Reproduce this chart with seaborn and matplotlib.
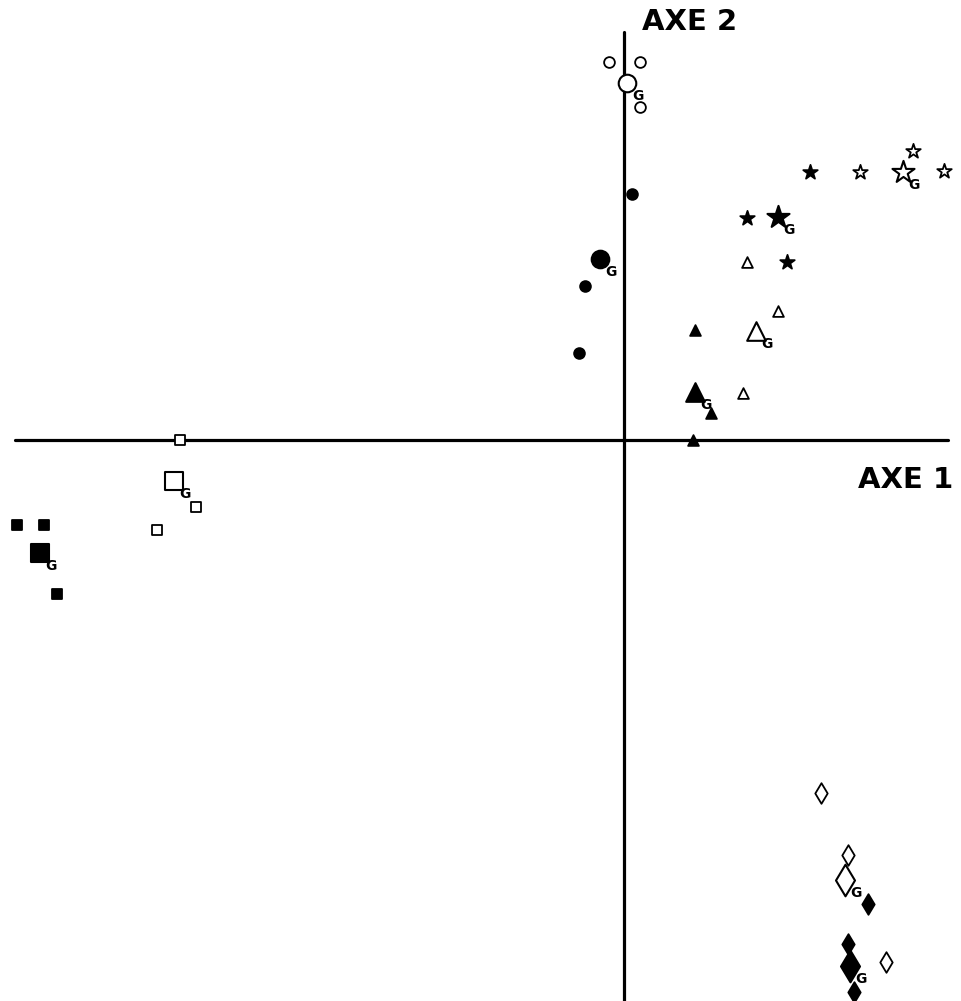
import matplotlib
matplotlib.use("Agg")
import matplotlib.pyplot as plt
import seaborn as sns
import pandas as pd

sns.set_style("white")
plt.rcParams['font.family'] = ['DejaVu Sans']
plt.rcParams['text.color'] = 'black'

# Factorial plane coordinates (units: axis 1 horizontal, axis 2 vertical)
open_circle_x = [-0.15, 0.16, 0.16]
open_circle_y = [3.78, 3.78, 3.33]
open_circle_g = (0.03, 3.57)

filled_circle_x = [0.08, -0.39, -0.45]
filled_circle_y = [2.46, 1.54, 0.87]
filled_circle_g = (-0.24, 1.81)

filled_star_x = [1.86, 1.23, 1.63]
filled_star_y = [2.68, 2.22, 1.78]
filled_star_g = (1.54, 2.23)

open_star_x = [2.89, 2.36, 3.20]
open_star_y = [2.89, 2.68, 2.69]
open_star_g = (2.79, 2.68)

open_tri_x = [1.23, 1.54, 1.19]
open_tri_y = [1.78, 1.29, 0.47]
open_tri_g = (1.32, 1.09)

filled_tri_x = [0.71, 0.87, 0.69]
filled_tri_y = [1.10, 0.27, 0.00]
filled_tri_g = (0.71, 0.48)

open_sq_x = [-4.44, -4.28, -4.67]
open_sq_y = [0.00, -0.67, -0.90]
open_sq_g = (-4.50, -0.41)

filled_sq_x = [-6.07, -5.80, -5.67]
filled_sq_y = [-0.85, -0.85, -1.54]
filled_sq_g = (-5.84, -1.13)

open_dia_x = [1.97, 2.24, 2.62]
open_dia_y = [-3.53, -4.15, -5.22]
open_dia_g = (2.21, -4.40)

filled_dia_x = [2.44, 2.24, 2.30]
filled_dia_y = [-4.64, -5.04, -5.52]
filled_dia_g = (2.26, -5.26)

groups = [
    (open_circle_x, open_circle_y, open_circle_g, "o", False, 60, 160),
    (filled_circle_x, filled_circle_y, filled_circle_g, "o", True, 60, 160),
    (filled_star_x, filled_star_y, filled_star_g, "*", True, 120, 280),
    (open_star_x, open_star_y, open_star_g, "*", False, 120, 280),
    (open_tri_x, open_tri_y, open_tri_g, "^", False, 60, 180),
    (filled_tri_x, filled_tri_y, filled_tri_g, "^", True, 60, 180),
    (open_sq_x, open_sq_y, open_sq_g, "s", False, 60, 150),
    (filled_sq_x, filled_sq_y, filled_sq_g, "s", True, 60, 150),
    (open_dia_x, open_dia_y, open_dia_g, "d", False, 110, 260),
    (filled_dia_x, filled_dia_y, filled_dia_g, "d", True, 110, 260),
]

fig = plt.figure(figsize=(9.61, 10.01), dpi=100)
ax = fig.add_axes([0, 0, 1, 1])

# axes lines
ax.plot([-6.09, 3.24], [0, 0], color="black", lw=2.3, zorder=1)
ax.plot([0.0, 0.0], [4.08, -5.61], color="black", lw=2.3, zorder=1)

for xs, ys, g, mk, filled, s_small, s_big in groups:
    df = pd.DataFrame({"x": xs, "y": ys})
    fc = "black" if filled else "white"
    sns.scatterplot(data=df, x="x", y="y", marker=mk, s=s_small, color=fc,
                    edgecolor="black", linewidth=1.3, ax=ax, zorder=3)
    dg = pd.DataFrame({"x": [g[0]], "y": [g[1]]})
    sns.scatterplot(data=dg, x="x", y="y", marker=mk, s=s_big, color=fc,
                    edgecolor="black", linewidth=1.5, ax=ax, zorder=3)
    ax.text(g[0] + 0.05, g[1] - 0.06, "G", fontsize=10, fontweight="bold",
            color="black", family=["Liberation Sans Narrow", "DejaVu Sans"],
            ha="left", va="top", zorder=4)

ax.set_xlim(-6.24, 3.37)
ax.set_ylim(-5.61, 4.40)
ax.axis("off")

ax.text(0.66, 4.18, "AXE 2", fontsize=21, fontweight="bold", color="black",
        ha="center", va="center", family=["DejaVu Sans"])
ax.text(2.34, -0.40, "AXE 1", fontsize=21, fontweight="bold", color="black",
        ha="left", va="center", family=["DejaVu Sans"])

fig.savefig("out.png", dpi=100, facecolor="white")
